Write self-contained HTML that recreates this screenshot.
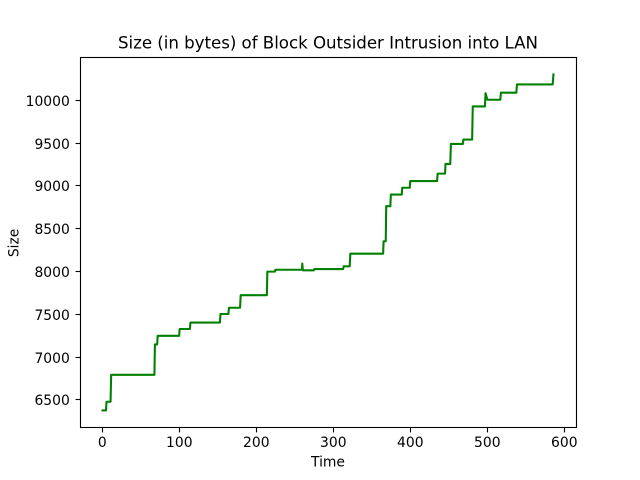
<!DOCTYPE html>
<html>
<head>
<meta charset="utf-8">
<title>Size (in bytes) of Block Outsider Intrusion into LAN</title>
<style>
html,body{margin:0;padding:0;background:#fff;}
svg{display:block;}
text{font-family:"DejaVu Sans",sans-serif;fill:#000;}
</style>
</head>
<body>
<svg id="chart" width="640" height="480" viewBox="0 0 640 480" xmlns="http://www.w3.org/2000/svg">
<rect x="0" y="0" width="640" height="480" fill="#ffffff"/>
<text id="title" x="118" y="48.5" font-size="16.67" textLength="420" lengthAdjust="spacing">Size (in bytes) of Block Outsider Intrusion into LAN</text>
<text x="328" y="466.5" font-size="13.89" text-anchor="middle">Time</text>
<text x="0" y="0" font-size="13.89" text-anchor="middle" transform="translate(18.5,242.9) rotate(-90)">Size</text>
<g id="ticks"></g>
<path id="line" fill="none" stroke="#008000" stroke-width="2.08" stroke-linejoin="round" stroke-linecap="square"></path>
<rect x="80.5" y="57.5" width="496" height="370" fill="none" stroke="#000" stroke-width="1.11"/>
</svg>
<script>
const times = [0,4.4,5.2,10.4,11.2,67.4,68,70.9,71.6,99.4,100.2,113.4,114.2,152.4,153.2,163.4,164.2,178.6,179.4,213.4,214,223.8,224.4,259,259.4,260,260.4,274.4,275.2,312.4,313.2,321,321.8,364.4,365,367.8,368.4,373.8,374.4,388.6,389.2,399,399.6,434.4,435.2,444.8,445.4,451.6,452.4,468,468.6,480,480.8,496.6,497.4,499.8,516.6,517.4,537.4,538.2,584.6,585.6];
const sizes = [6377,6377,6478,6478,6793,6793,7148,7148,7248,7248,7328,7328,7403,7403,7503,7503,7576,7576,7723,7723,7998,7998,8020,8020,8093,8020,8013,8013,8028,8028,8060,8060,8208,8208,8353,8353,8763,8763,8898,8898,8978,8978,9056,9056,9143,9143,9256,9256,9490,9490,9541,9541,9928,9928,10083,10006,10006,10088,10088,10185,10185,10302];
const xTickValues = [0,100,200,300,400,500,600];
const yTickValues = [6500,7000,7500,8000,8500,9000,9500,10000];

const axesLeft = 80, axesRight = 576, axesTop = 57.6, axesBottom = 427.2;
const SVG_NS = 'http://www.w3.org/2000/svg';

function paddedDomain(values) {
  const lo = Math.min(...values), hi = Math.max(...values);
  const pad = (hi - lo) * 0.05;
  return [lo - pad, hi + pad];
}
const xDomain = paddedDomain(times);
const yDomain = paddedDomain(sizes);
function xScale(t) {
  return axesLeft + (t - xDomain[0]) / (xDomain[1] - xDomain[0]) * (axesRight - axesLeft);
}
function yScale(v) {
  return axesBottom - (v - yDomain[0]) / (yDomain[1] - yDomain[0]) * (axesBottom - axesTop);
}

const tickGroup = document.getElementById('ticks');
function addTick(x1, y1, x2, y2) {
  const tick = document.createElementNS(SVG_NS, 'line');
  
  
  tick.setAttribute('x1', x1);
  tick.setAttribute('y1', y1);
  tick.setAttribute('x2', x2);
  tick.setAttribute('y2', y2);
  tick.setAttribute('stroke', '#000');
  tick.setAttribute('stroke-width', '1.11');
  tickGroup.appendChild(tick);
}
function addLabel(x, y, anchor, content) {
  const label = document.createElementNS(SVG_NS, 'text');
  
  
  label.setAttribute('x', x);
  label.setAttribute('y', y);
  label.setAttribute('font-size', '13.89');
  label.setAttribute('text-anchor', anchor);
  label.textContent = content;
  tickGroup.appendChild(label);
}
xTickValues.forEach(function (t) {
  const x = Math.floor(xScale(t)) + 0.5;
  addTick(x, axesBottom + 0.3, x, axesBottom + 5.2);
  addLabel(x - 0.2, 447, 'middle', String(t));
});
yTickValues.forEach(function (v) {
  const y = Math.floor(yScale(v)) + 0.5;
  addTick(axesLeft + 0.5, y, axesLeft - 4.4, y);
  addLabel(axesLeft - 10.2, y + 5.5, 'end', String(v));
});

document.getElementById('line').setAttribute('d', times.map(function (t, i) {
  return (i ? 'L' : 'M') + xScale(t).toFixed(2) + ' ' + yScale(sizes[i]).toFixed(2);
}).join(' '));
</script>
</body>
</html>
